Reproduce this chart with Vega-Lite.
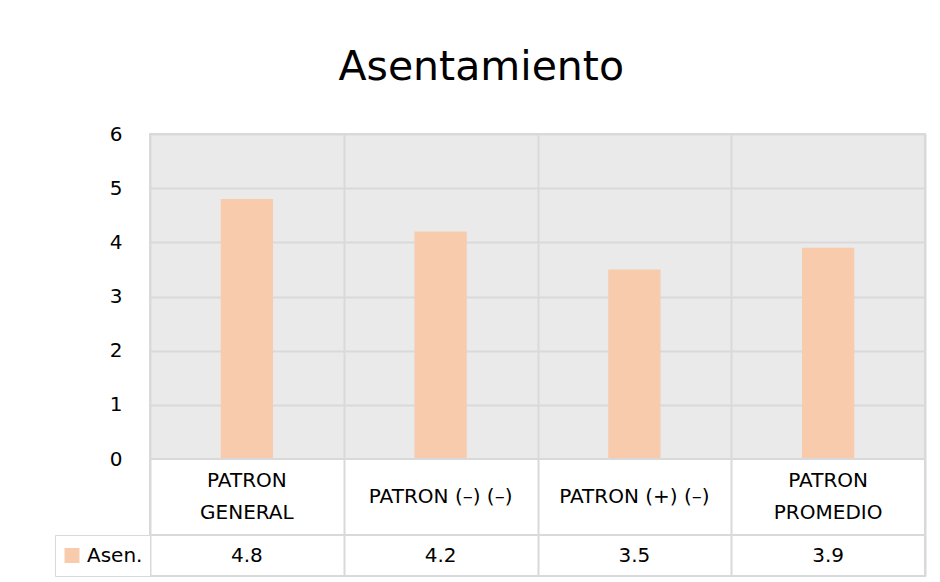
{
  "$schema": "https://vega.github.io/schema/vega-lite/v6.json",
  "background": "white",
  "padding": {"left": 54, "top": 47, "right": 5, "bottom": 5},
  "bounds": "flush",
  "spacing": 0,
  "config": {
    "font": "DejaVu Sans",
    "view": {"stroke": "#d9d9d9", "strokeWidth": 2},
    "axis": {"gridColor": "#d9d9d9", "gridWidth": 2, "gridOpacity": 1},
    "legend": {"strokeColor": "#d9d9d9"}
  },
  "title": {"text": "Asentamiento", "fontSize": 41, "fontWeight": "normal", "color": "#000000", "anchor": "middle", "dx": -9, "offset": 34},
  "data": {"values": [
    {"categoria": "PATRON\nGENERAL", "valor": 4.8, "serie": "Asen."},
    {"categoria": "PATRON (–) (–)", "valor": 4.2, "serie": "Asen."},
    {"categoria": "PATRON (+) (–)", "valor": 3.5, "serie": "Asen."},
    {"categoria": "PATRON\nPROMEDIO", "valor": 3.9, "serie": "Asen."}
  ]},
  "vconcat": [
    {
      "width": 775, "height": 325,
      "view": {"fill": "#eaeaea", "stroke": "#d9d9d9", "strokeWidth": 2},
      "mark": {"type": "bar", "width": {"band": 0.27}},
      "encoding": {
        "x": {"field": "categoria", "type": "nominal", "sort": null, "scale": {"paddingInner": 0, "paddingOuter": 0},
              "axis": {"title": null, "labels": false, "ticks": false, "domain": false, "grid": true, "tickBand": "extent"}},
        "y": {"field": "valor", "type": "quantitative", "scale": {"domain": [0, 6]},
              "axis": {"title": null, "values": [0, 1, 2, 3, 4, 5, 6], "domain": false, "ticks": false, "labelPadding": 28, "labelFontSize": 20, "labelColor": "#000000", "format": "d"}},
        "color": {"field": "serie", "type": "nominal", "scale": {"range": ["#f8cbad"]},
                  "legend": {"orient": "none", "legendX": -95, "legendY": 401, "title": null, "symbolType": "square", "symbolSize": 225, "symbolStrokeWidth": 0, "labelFontSize": 20, "labelColor": "#000000", "padding": 7, "clipHeight": 27, "strokeColor": "#d9d9d9", "labelOffset": 5, "fillColor": "white"}}
      }
    },
    {
      "width": 775, "height": 76,
      "view": {"fill": "white", "stroke": "#d9d9d9", "strokeWidth": 2},
      "encoding": {
        "x": {"field": "categoria", "type": "nominal", "sort": null,
              "scale": {"domain": ["PATRON\nGENERAL", "PATRON (–) (–)", "PATRON (+) (–)", "PATRON\nPROMEDIO"], "paddingInner": 0, "paddingOuter": 0},
              "axis": {"title": null, "labels": false, "ticks": false, "domain": false, "grid": true, "tickBand": "extent"}},
        "text": {"field": "categoria"}
      },
      "layer": [
        {
          "transform": [{"filter": "indexof(datum.categoria, '\\n') >= 0"}],
          "mark": {"type": "text", "lineBreak": "\n", "fontSize": 20, "lineHeight": 32, "color": "#000000", "dy": -16}
        },
        {
          "transform": [{"filter": "indexof(datum.categoria, '\\n') < 0"}],
          "mark": {"type": "text", "fontSize": 20, "color": "#000000"}
        }
      ]
    },
    {
      "width": 775, "height": 41,
      "view": {"fill": "white", "stroke": "#d9d9d9", "strokeWidth": 2},
      "mark": {"type": "text", "fontSize": 20, "color": "#000000"},
      "encoding": {
        "x": {"field": "categoria", "type": "nominal", "sort": null, "scale": {"paddingInner": 0, "paddingOuter": 0},
              "axis": {"title": null, "labels": false, "ticks": false, "domain": false, "grid": true, "tickBand": "extent"}},
        "text": {"field": "valor", "type": "quantitative", "format": ".1f"}
      }
    }
  ]
}
